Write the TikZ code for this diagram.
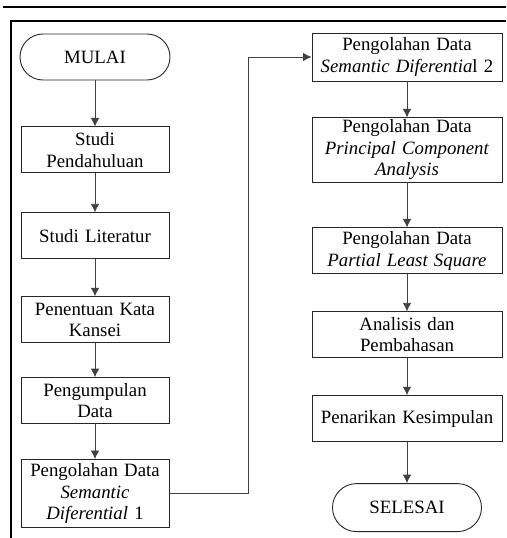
\documentclass[tikz,border=0pt]{standalone}
\usepackage{fontspec}
\setmainfont{Liberation Serif}
\usetikzlibrary{positioning,arrows.meta}

\tikzset{
  proc/.style={draw=black!85, line width=0.9pt, rectangle, align=center,
    inner xsep=2pt, inner ysep=2pt, minimum height=46pt},
  procL/.style={proc, text width=144pt, minimum width=148pt},
  procR/.style={proc, text width=186pt, minimum width=190pt},
  terminal/.style={draw=black!85, line width=0.9pt, rectangle,
    rounded corners=23pt, minimum width=150pt, minimum height=46pt}
}

\begin{document}
\begin{tikzpicture}[x=1pt, y=1pt, >={Latex[length=8.5pt,width=8.5pt]},
    node distance=36pt, font=\fontsize{18.8}{21.5}\selectfont]
  \useasboundingbox (0,0) rectangle (506,-538);
  % page rules
  \draw[line width=2.6pt] (3,-7) -- (506,-7);
  \draw[line width=1.3pt] (506,-21) -- (11,-21) -- (11,-538);

  % left column
  \node (start) [terminal] at (95,-57) {MULAI};
  \node (studiP) [procL, below=46pt of start] {Studi\\Pendahuluan};
  \node (studiL) [procL, below=39pt of studiP] {Studi Literatur};
  \node (kata) [procL, below=37pt of studiL] {Penentuan Kata\\Kansei};
  \node (kumpul) [procL, below=34pt of kata] {Pengumpulan\\Data};
  \node (sd1) [procL, below=35pt of kumpul, minimum height=68pt]
    {Pengolahan Data\\\textit{Semantic}\\\textit{Diferential} 1};

  % right column
  \node (sd2) [procR, minimum height=48pt] at (407,-57)
    {Pengolahan Data\\\textit{Semantic Diferentia}l 2};
  \node (pca) [procR, below=36pt of sd2, minimum height=62pt]
    {Pengolahan Data\\\textit{Principal Component}\\\textit{Analysis}};
  \node (pls) [procR, below=45pt of pca]
    {Pengolahan Data\\\textit{Partial Least Square}};
  \node (bahas) [procR, below=37pt of pls] {Analisis dan\\Pembahasan};
  \node (simpul) [procR, below=37pt of bahas] {Penarikan Kesimpulan};
  \node (finish) [terminal, minimum width=149pt, minimum height=48pt,
    rounded corners=24pt, below=41pt of simpul] {SELESAI};

  \coordinate (bend) at (248,0);

  \begin{scope}[draw=black!75, line width=0.8pt, ->]
    \draw (start) -- (studiP);
    \draw (studiP) -- (studiL);
    \draw (studiL) -- (kata);
    \draw (kata) -- (kumpul);
    \draw (kumpul) -- (sd1);
    \draw (sd1.east) -- (sd1.east -| bend) |- (sd2.west);
    \draw (sd2) -- (pca);
    \draw (pca) -- (pls);
    \draw (pls) -- (bahas);
    \draw (bahas) -- (simpul);
    \draw (simpul) -- (finish);
  \end{scope}
\end{tikzpicture}
\end{document}
